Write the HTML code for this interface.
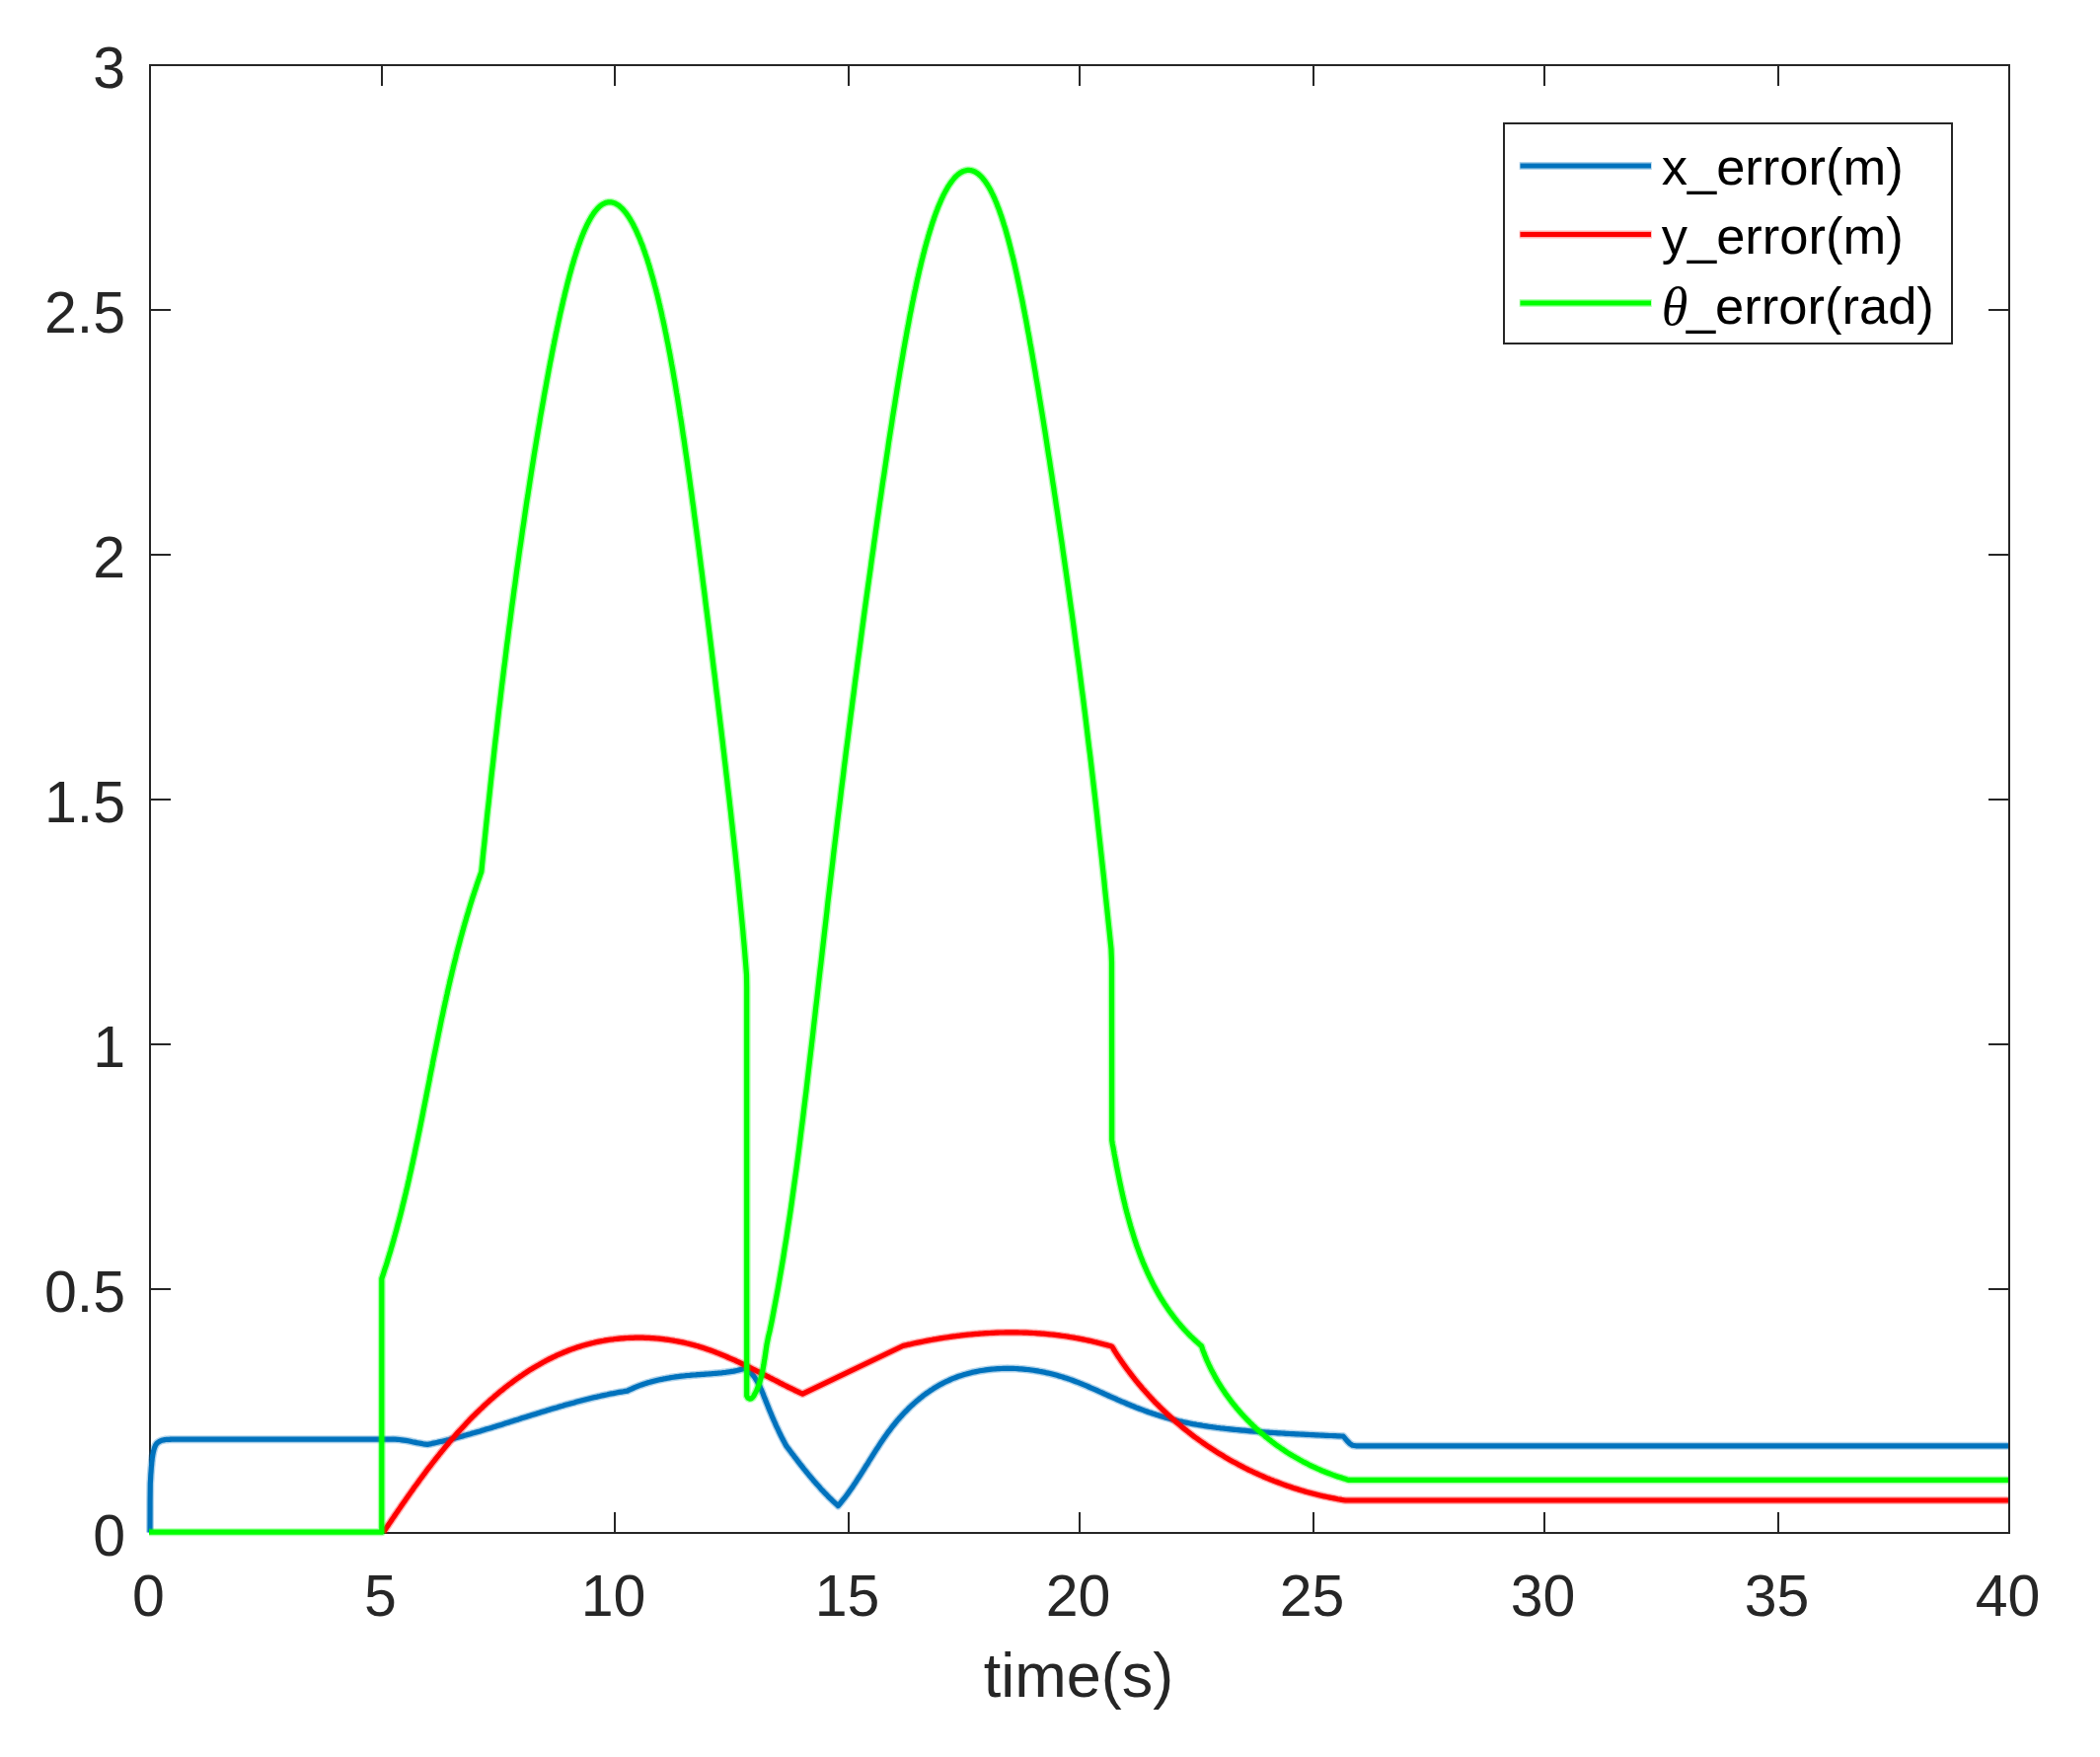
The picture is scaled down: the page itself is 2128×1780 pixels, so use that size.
<!DOCTYPE html>
<html lang="en">
<head>
<meta charset="utf-8">
<title>Tracking error plot</title>
<style>
html,body{margin:0;padding:0;background:#fff;}
body{width:2128px;height:1780px;overflow:hidden;}
svg{display:block;}
</style>
</head>
<body>
<svg width="2128" height="1780" viewBox="0 0 2128 1780">
<rect width="2128" height="1780" fill="#fff"/>
<g stroke="#262626" stroke-width="2" fill="none" shape-rendering="crispEdges">
<rect x="152" y="66" width="1884" height="1487"/>
<path d="M387 1553V1532 M387 66V87"/>
<path d="M623 1553V1532 M623 66V87"/>
<path d="M860 1553V1532 M860 66V87"/>
<path d="M1094 1553V1532 M1094 66V87"/>
<path d="M1331 1553V1532 M1331 66V87"/>
<path d="M1565 1553V1532 M1565 66V87"/>
<path d="M1802 1553V1532 M1802 66V87"/>
<path d="M152 1306H173 M2036 1306H2015"/>
<path d="M152 1058H173 M2036 1058H2015"/>
<path d="M152 810H173 M2036 810H2015"/>
<path d="M152 562H173 M2036 562H2015"/>
<path d="M152 314H173 M2036 314H2015"/>
</g>
<defs>
<path id="cb" d="M152.0,1552.5 L152.1,1520.0 L152.3,1503.0 L152.6,1498.2 L152.8,1493.9 L153.1,1490.3 L153.3,1487.1 L153.6,1484.2 L153.8,1481.5 L154.1,1479.1 L154.3,1477.0 L154.6,1475.3 L154.8,1473.8 L155.1,1472.5 L155.3,1471.3 L155.6,1470.2 L155.8,1469.2 L156.1,1468.3 L156.3,1467.5 L156.6,1466.7 L156.8,1466.1 L157.1,1465.5 L157.3,1464.9 L157.6,1464.4 L157.8,1463.9 L158.1,1463.5 L158.4,1463.1 L158.6,1462.7 L158.9,1462.4 L159.1,1462.2 L159.4,1461.9 L159.6,1461.7 L159.9,1461.5 L160.1,1461.3 L160.4,1461.1 L160.6,1460.9 L160.9,1460.8 L161.1,1460.6 L161.4,1460.5 L161.6,1460.3 L161.9,1460.2 L162.1,1460.1 L162.4,1460.0 L162.6,1459.8 L162.9,1459.7 L163.1,1459.6 L163.4,1459.5 L163.6,1459.4 L163.9,1459.3 L164.2,1459.2 L164.4,1459.2 L164.7,1459.1 L164.9,1459.0 L165.2,1459.0 L165.4,1458.9 L165.7,1458.9 L165.9,1458.8 L166.2,1458.8 L166.4,1458.7 L166.7,1458.7 L166.9,1458.6 L167.2,1458.6 L167.4,1458.6 L167.7,1458.5 L167.9,1458.5 L168.2,1458.5 L168.4,1458.4 L168.7,1458.4 L168.9,1458.4 L169.2,1458.4 L169.4,1458.4 L169.7,1458.4 L169.9,1458.4 L170.2,1458.3 L170.5,1458.3 L170.7,1458.3 L171.0,1458.3 L171.2,1458.3 L171.5,1458.3 L171.7,1458.3 L172.0,1458.3 L172.2,1458.3 L172.5,1458.3 L172.7,1458.2 L173.0,1458.2 L173.2,1458.2 L173.5,1458.2 L173.7,1458.2 L174.0,1458.2 L174.2,1458.2 L174.5,1458.2 L174.7,1458.2 L175.0,1458.2 L175.2,1458.2 L175.5,1458.2 L175.7,1458.2 L176.0,1458.2 L396.0,1458.2 L398.2,1458.1 L400.5,1458.2 L402.7,1458.3 L404.9,1458.5 L407.1,1458.8 L409.2,1459.1 L411.4,1459.4 L413.6,1459.8 L415.8,1460.2 L418.0,1460.7 L420.1,1461.1 L422.3,1461.6 L424.5,1462.0 L426.6,1462.4 L428.8,1462.8 L431.0,1463.1 L433.2,1463.4 L435.2,1463.0 L437.2,1462.6 L439.2,1462.1 L441.2,1461.7 L443.1,1461.3 L445.1,1460.8 L447.1,1460.4 L449.1,1459.9 L451.0,1459.4 L453.0,1458.9 L455.0,1458.5 L457.0,1458.0 L458.9,1457.5 L460.9,1457.0 L462.9,1456.4 L464.8,1455.9 L466.8,1455.4 L468.8,1454.9 L470.7,1454.3 L472.7,1453.8 L474.6,1453.2 L476.6,1452.7 L478.6,1452.1 L480.5,1451.6 L482.5,1451.0 L484.4,1450.4 L486.4,1449.9 L488.3,1449.3 L490.3,1448.7 L492.2,1448.1 L494.2,1447.5 L496.1,1447.0 L498.1,1446.4 L500.0,1445.8 L502.0,1445.2 L503.9,1444.6 L505.9,1444.0 L507.8,1443.4 L509.8,1442.8 L511.7,1442.1 L513.7,1441.5 L515.6,1440.9 L517.5,1440.3 L519.5,1439.7 L521.4,1439.1 L523.4,1438.5 L525.3,1437.9 L527.3,1437.2 L529.2,1436.6 L531.2,1436.0 L533.1,1435.4 L535.1,1434.8 L537.0,1434.2 L539.0,1433.6 L540.9,1433.0 L542.8,1432.4 L544.8,1431.8 L546.7,1431.2 L548.7,1430.6 L550.6,1430.0 L552.6,1429.4 L554.5,1428.8 L556.5,1428.2 L558.5,1427.6 L560.4,1427.0 L562.4,1426.4 L564.3,1425.9 L566.3,1425.3 L568.2,1424.7 L570.2,1424.2 L572.1,1423.6 L574.1,1423.0 L576.1,1422.5 L578.0,1421.9 L580.0,1421.4 L582.0,1420.9 L583.9,1420.3 L585.9,1419.8 L587.9,1419.3 L589.8,1418.8 L591.8,1418.3 L593.8,1417.8 L595.8,1417.3 L597.7,1416.8 L599.7,1416.3 L601.7,1415.8 L603.7,1415.4 L605.7,1414.9 L607.7,1414.5 L609.6,1414.0 L611.6,1413.6 L613.6,1413.2 L615.6,1412.8 L617.6,1412.3 L619.6,1411.9 L621.6,1411.6 L623.6,1411.2 L625.6,1410.8 L627.6,1410.4 L629.7,1410.1 L631.7,1409.8 L633.7,1409.4 L635.7,1409.1 L637.5,1408.2 L639.4,1407.3 L641.3,1406.5 L643.1,1405.7 L645.0,1404.9 L646.9,1404.1 L648.8,1403.4 L650.8,1402.7 L652.7,1402.1 L654.6,1401.4 L656.6,1400.8 L658.5,1400.3 L660.5,1399.7 L662.4,1399.2 L664.4,1398.7 L666.4,1398.2 L668.4,1397.8 L670.4,1397.4 L672.4,1396.9 L674.4,1396.6 L676.4,1396.2 L678.4,1395.9 L680.4,1395.5 L682.5,1395.2 L684.5,1394.9 L686.5,1394.7 L688.6,1394.4 L690.6,1394.2 L692.6,1394.0 L694.7,1393.7 L696.7,1393.5 L698.8,1393.4 L700.8,1393.2 L702.9,1393.0 L704.9,1392.9 L707.0,1392.7 L709.0,1392.6 L711.1,1392.4 L713.1,1392.3 L715.2,1392.1 L717.2,1392.0 L719.3,1391.8 L721.3,1391.7 L723.3,1391.5 L725.4,1391.3 L727.4,1391.2 L729.4,1391.0 L731.5,1390.8 L733.5,1390.5 L735.5,1390.3 L737.5,1390.0 L739.5,1389.7 L741.5,1389.4 L743.5,1389.1 L745.5,1388.7 L747.4,1388.3 L749.4,1387.8 L751.3,1387.3 L753.3,1386.8 L755.2,1386.2 L756.9,1387.3 L758.4,1388.6 L759.9,1389.9 L761.3,1391.3 L762.6,1392.8 L763.9,1394.3 L765.0,1395.9 L766.1,1397.6 L767.2,1399.3 L768.1,1401.0 L769.1,1402.8 L770.0,1404.7 L770.8,1406.5 L771.7,1408.4 L772.5,1410.4 L773.3,1412.3 L774.0,1414.2 L774.8,1416.2 L775.6,1418.1 L776.3,1420.1 L777.1,1422.0 L777.9,1423.9 L778.6,1425.8 L779.4,1427.8 L780.2,1429.7 L781.0,1431.6 L781.8,1433.5 L782.6,1435.4 L783.4,1437.3 L784.2,1439.1 L785.1,1441.0 L785.9,1442.9 L786.7,1444.8 L787.6,1446.6 L788.5,1448.5 L789.3,1450.3 L790.2,1452.2 L791.1,1454.0 L792.0,1455.8 L793.0,1457.7 L793.9,1459.5 L794.9,1461.3 L795.8,1463.1 L796.8,1464.9 L798.0,1466.5 L799.3,1468.2 L800.5,1469.8 L801.8,1471.5 L803.0,1473.1 L804.3,1474.7 L805.5,1476.4 L806.8,1478.0 L808.0,1479.6 L809.3,1481.3 L810.5,1482.9 L811.8,1484.5 L813.1,1486.1 L814.4,1487.8 L815.7,1489.4 L817.0,1491.0 L818.3,1492.6 L819.6,1494.2 L820.9,1495.7 L822.2,1497.3 L823.6,1498.9 L824.9,1500.5 L826.3,1502.0 L827.6,1503.6 L829.0,1505.1 L830.4,1506.6 L831.7,1508.2 L833.1,1509.7 L834.6,1511.2 L836.0,1512.7 L837.4,1514.1 L838.8,1515.6 L840.3,1517.1 L841.8,1518.5 L843.2,1519.9 L844.7,1521.3 L846.2,1522.7 L847.8,1524.1 L849.3,1525.5 L850.6,1524.0 L851.9,1522.5 L853.1,1520.9 L854.3,1519.4 L855.6,1517.8 L856.8,1516.3 L858.0,1514.7 L859.2,1513.1 L860.3,1511.5 L861.5,1509.8 L862.6,1508.2 L863.8,1506.6 L864.9,1504.9 L866.0,1503.2 L867.1,1501.6 L868.2,1499.9 L869.3,1498.2 L870.4,1496.5 L871.5,1494.8 L872.6,1493.1 L873.7,1491.4 L874.8,1489.7 L875.9,1487.9 L876.9,1486.2 L878.0,1484.5 L879.1,1482.8 L880.2,1481.0 L881.2,1479.3 L882.3,1477.6 L883.4,1475.9 L884.5,1474.1 L885.6,1472.4 L886.7,1470.7 L887.7,1469.0 L888.9,1467.3 L890.0,1465.6 L891.1,1463.9 L892.2,1462.2 L893.3,1460.5 L894.5,1458.8 L895.6,1457.1 L896.8,1455.4 L898.0,1453.8 L899.2,1452.1 L900.3,1450.5 L901.6,1448.9 L902.8,1447.2 L904.0,1445.6 L905.3,1444.0 L906.6,1442.5 L907.8,1440.9 L909.1,1439.3 L910.5,1437.8 L911.8,1436.3 L913.2,1434.8 L914.5,1433.3 L915.9,1431.8 L917.3,1430.3 L918.7,1428.9 L920.1,1427.4 L921.6,1426.0 L923.0,1424.6 L924.5,1423.3 L926.0,1421.9 L927.5,1420.6 L929.0,1419.3 L930.6,1418.0 L932.1,1416.7 L933.7,1415.5 L935.2,1414.2 L936.8,1413.0 L938.4,1411.8 L940.1,1410.7 L941.7,1409.6 L943.3,1408.4 L945.0,1407.4 L946.7,1406.3 L948.4,1405.3 L950.1,1404.3 L951.8,1403.3 L953.5,1402.3 L955.3,1401.4 L957.0,1400.5 L958.8,1399.6 L960.6,1398.8 L962.4,1398.0 L964.2,1397.2 L966.0,1396.4 L967.9,1395.7 L969.7,1395.0 L971.6,1394.3 L973.5,1393.7 L975.3,1393.1 L977.2,1392.5 L979.1,1392.0 L981.1,1391.4 L983.0,1390.9 L984.9,1390.4 L986.9,1390.0 L988.8,1389.6 L990.8,1389.2 L992.7,1388.8 L994.7,1388.5 L996.7,1388.2 L998.7,1387.9 L1000.7,1387.6 L1002.7,1387.4 L1004.7,1387.2 L1006.7,1387.0 L1008.7,1386.8 L1010.7,1386.7 L1012.7,1386.6 L1014.7,1386.5 L1016.8,1386.4 L1018.8,1386.4 L1020.8,1386.3 L1022.8,1386.4 L1024.9,1386.4 L1026.9,1386.4 L1028.9,1386.5 L1031.0,1386.6 L1033.0,1386.8 L1035.0,1386.9 L1037.1,1387.1 L1039.1,1387.3 L1041.1,1387.5 L1043.2,1387.7 L1045.2,1388.0 L1047.2,1388.3 L1049.2,1388.6 L1051.2,1388.9 L1053.2,1389.3 L1055.2,1389.6 L1057.2,1390.0 L1059.2,1390.4 L1061.2,1390.9 L1063.2,1391.3 L1065.2,1391.8 L1067.2,1392.3 L1069.1,1392.8 L1071.1,1393.3 L1073.0,1393.9 L1075.0,1394.5 L1076.9,1395.0 L1078.8,1395.7 L1080.8,1396.3 L1082.7,1396.9 L1084.6,1397.6 L1086.5,1398.3 L1088.3,1399.0 L1090.2,1399.7 L1092.1,1400.4 L1094.0,1401.2 L1095.8,1401.9 L1097.7,1402.7 L1099.5,1403.4 L1101.4,1404.2 L1103.2,1405.0 L1105.0,1405.8 L1106.9,1406.6 L1108.7,1407.4 L1110.5,1408.2 L1112.4,1409.0 L1114.2,1409.9 L1116.0,1410.7 L1117.9,1411.5 L1119.7,1412.3 L1121.5,1413.2 L1123.3,1414.0 L1125.2,1414.8 L1127.0,1415.6 L1128.8,1416.4 L1130.6,1417.2 L1132.5,1418.1 L1134.3,1418.9 L1136.1,1419.7 L1138.0,1420.4 L1139.8,1421.2 L1141.7,1422.0 L1143.5,1422.8 L1145.4,1423.5 L1147.2,1424.3 L1149.1,1425.0 L1151.0,1425.8 L1152.8,1426.5 L1154.7,1427.2 L1156.6,1427.9 L1158.5,1428.6 L1160.3,1429.3 L1162.2,1430.0 L1164.1,1430.7 L1166.0,1431.3 L1167.9,1432.0 L1169.8,1432.6 L1171.7,1433.2 L1173.6,1433.8 L1175.5,1434.4 L1177.4,1435.0 L1179.3,1435.6 L1181.3,1436.2 L1183.2,1436.7 L1185.1,1437.2 L1187.1,1437.8 L1189.0,1438.3 L1191.0,1438.7 L1192.9,1439.2 L1194.9,1439.7 L1196.8,1440.1 L1198.8,1440.6 L1200.8,1441.0 L1202.7,1441.4 L1204.7,1441.8 L1206.7,1442.2 L1208.7,1442.6 L1210.6,1442.9 L1212.6,1443.3 L1214.6,1443.6 L1216.6,1443.9 L1218.6,1444.3 L1220.6,1444.6 L1222.6,1444.9 L1224.6,1445.2 L1226.6,1445.5 L1228.6,1445.7 L1230.6,1446.0 L1232.6,1446.3 L1234.6,1446.5 L1236.6,1446.8 L1238.6,1447.0 L1240.6,1447.2 L1242.6,1447.5 L1244.7,1447.7 L1246.7,1447.9 L1248.7,1448.1 L1250.7,1448.3 L1252.7,1448.5 L1254.7,1448.7 L1256.7,1448.9 L1258.8,1449.1 L1260.8,1449.2 L1262.8,1449.4 L1264.8,1449.6 L1266.8,1449.8 L1268.8,1449.9 L1270.8,1450.1 L1272.8,1450.2 L1274.8,1450.4 L1276.9,1450.5 L1278.9,1450.7 L1280.9,1450.8 L1282.9,1451.0 L1284.9,1451.1 L1286.9,1451.3 L1288.9,1451.4 L1290.9,1451.5 L1292.9,1451.6 L1294.9,1451.8 L1297.0,1451.9 L1299.0,1452.0 L1301.0,1452.1 L1303.0,1452.3 L1305.0,1452.4 L1307.0,1452.5 L1309.0,1452.6 L1311.0,1452.7 L1313.0,1452.8 L1315.0,1452.9 L1317.0,1453.0 L1319.1,1453.1 L1321.1,1453.2 L1323.1,1453.3 L1325.1,1453.4 L1327.1,1453.5 L1329.1,1453.6 L1331.1,1453.7 L1333.1,1453.8 L1335.1,1453.9 L1337.1,1454.0 L1339.1,1454.1 L1341.1,1454.2 L1343.1,1454.3 L1345.1,1454.4 L1347.2,1454.5 L1349.2,1454.5 L1351.2,1454.6 L1353.2,1454.7 L1355.2,1454.8 L1357.2,1454.9 L1359.2,1455.0 L1361.2,1455.1 L1365.0,1459.6 L1368.0,1462.6 L1370.5,1464.2 L1374.0,1464.8 L2035.0,1464.8"/>
<path id="cr" d="M388.6,1552.2 L389.7,1550.5 L390.9,1548.9 L392.0,1547.2 L393.1,1545.5 L394.2,1543.8 L395.4,1542.2 L396.5,1540.5 L397.6,1538.8 L398.8,1537.2 L399.9,1535.5 L401.0,1533.8 L402.2,1532.2 L403.3,1530.5 L404.4,1528.9 L405.6,1527.2 L406.7,1525.5 L407.9,1523.9 L409.0,1522.2 L410.2,1520.6 L411.3,1518.9 L412.5,1517.3 L413.6,1515.6 L414.8,1514.0 L415.9,1512.4 L417.1,1510.7 L418.3,1509.1 L419.4,1507.4 L420.6,1505.8 L421.8,1504.2 L423.0,1502.6 L424.2,1500.9 L425.3,1499.3 L426.5,1497.7 L427.7,1496.1 L428.9,1494.5 L430.1,1492.9 L431.3,1491.2 L432.5,1489.6 L433.7,1488.0 L435.0,1486.4 L436.2,1484.9 L437.4,1483.3 L438.6,1481.7 L439.9,1480.1 L441.1,1478.5 L442.4,1476.9 L443.6,1475.4 L444.9,1473.8 L446.1,1472.2 L447.4,1470.7 L448.7,1469.1 L449.9,1467.6 L451.2,1466.0 L452.5,1464.5 L453.8,1463.0 L455.1,1461.4 L456.4,1459.9 L457.7,1458.4 L459.0,1456.9 L460.3,1455.4 L461.7,1453.8 L463.0,1452.3 L464.3,1450.8 L465.7,1449.4 L467.0,1447.9 L468.4,1446.4 L469.8,1444.9 L471.2,1443.4 L472.5,1442.0 L473.9,1440.5 L475.3,1439.1 L476.7,1437.6 L478.1,1436.2 L479.6,1434.7 L481.0,1433.3 L482.4,1431.9 L483.9,1430.5 L485.3,1429.1 L486.8,1427.7 L488.3,1426.3 L489.7,1424.9 L491.2,1423.5 L492.7,1422.1 L494.2,1420.8 L495.7,1419.4 L497.2,1418.0 L498.8,1416.7 L500.3,1415.4 L501.8,1414.0 L503.4,1412.7 L504.9,1411.4 L506.5,1410.1 L508.1,1408.8 L509.7,1407.6 L511.2,1406.3 L512.8,1405.0 L514.4,1403.8 L516.0,1402.5 L517.7,1401.3 L519.3,1400.1 L520.9,1398.9 L522.6,1397.7 L524.2,1396.5 L525.9,1395.4 L527.5,1394.2 L529.2,1393.1 L530.9,1391.9 L532.6,1390.8 L534.2,1389.7 L535.9,1388.6 L537.6,1387.6 L539.4,1386.5 L541.1,1385.4 L542.8,1384.4 L544.5,1383.4 L546.3,1382.4 L548.0,1381.4 L549.8,1380.4 L551.6,1379.5 L553.3,1378.5 L555.1,1377.6 L556.9,1376.7 L558.7,1375.8 L560.5,1374.9 L562.3,1374.1 L564.1,1373.2 L565.9,1372.4 L567.7,1371.6 L569.6,1370.8 L571.4,1370.0 L573.3,1369.3 L575.1,1368.5 L577.0,1367.8 L578.8,1367.1 L580.7,1366.4 L582.6,1365.8 L584.5,1365.1 L586.4,1364.5 L588.3,1363.9 L590.2,1363.3 L592.1,1362.8 L594.0,1362.2 L596.0,1361.7 L597.9,1361.2 L599.8,1360.7 L601.8,1360.3 L603.7,1359.8 L605.7,1359.4 L607.6,1359.0 L609.6,1358.6 L611.6,1358.3 L613.5,1357.9 L615.5,1357.6 L617.5,1357.3 L619.5,1357.0 L621.5,1356.8 L623.5,1356.5 L625.5,1356.3 L627.5,1356.1 L629.5,1355.9 L631.5,1355.8 L633.5,1355.6 L635.5,1355.5 L637.5,1355.4 L639.5,1355.3 L641.5,1355.3 L643.5,1355.2 L645.5,1355.2 L647.5,1355.2 L649.5,1355.2 L651.6,1355.2 L653.6,1355.3 L655.6,1355.4 L657.6,1355.4 L659.6,1355.6 L661.6,1355.7 L663.6,1355.8 L665.6,1356.0 L667.7,1356.2 L669.7,1356.4 L671.7,1356.6 L673.7,1356.9 L675.7,1357.1 L677.7,1357.4 L679.7,1357.7 L681.6,1358.0 L683.6,1358.4 L685.6,1358.7 L687.6,1359.1 L689.6,1359.5 L691.6,1359.9 L693.5,1360.3 L695.5,1360.8 L697.5,1361.2 L699.4,1361.7 L701.4,1362.2 L703.3,1362.7 L705.2,1363.3 L707.2,1363.8 L709.1,1364.4 L711.0,1365.0 L712.9,1365.6 L714.9,1366.3 L716.8,1366.9 L718.7,1367.6 L720.6,1368.2 L722.4,1368.9 L724.3,1369.6 L726.2,1370.4 L728.1,1371.1 L729.9,1371.8 L731.8,1372.6 L733.7,1373.4 L735.5,1374.2 L737.4,1375.0 L739.2,1375.8 L741.1,1376.6 L742.9,1377.4 L744.8,1378.2 L746.6,1379.1 L748.4,1379.9 L750.3,1380.8 L752.1,1381.7 L753.9,1382.5 L755.7,1383.4 L757.5,1384.3 L759.3,1385.2 L761.2,1386.1 L763.0,1387.0 L764.8,1387.9 L766.6,1388.8 L768.4,1389.7 L770.2,1390.6 L772.0,1391.6 L773.8,1392.5 L775.6,1393.4 L777.4,1394.3 L779.2,1395.2 L781.0,1396.2 L782.8,1397.1 L784.6,1398.0 L786.4,1398.9 L788.2,1399.8 L789.9,1400.8 L791.7,1401.7 L793.5,1402.6 L795.3,1403.5 L797.1,1404.4 L798.9,1405.3 L800.7,1406.2 L802.5,1407.0 L804.3,1407.9 L806.1,1408.8 L807.9,1409.7 L809.7,1410.5 L811.5,1411.4 L813.3,1412.2 L915.0,1363.5 L917.0,1363.0 L918.9,1362.6 L920.9,1362.1 L922.9,1361.7 L924.8,1361.2 L926.8,1360.8 L928.8,1360.4 L930.7,1360.0 L932.7,1359.6 L934.7,1359.2 L936.7,1358.8 L938.7,1358.4 L940.6,1358.0 L942.6,1357.6 L944.6,1357.3 L946.6,1356.9 L948.6,1356.6 L950.6,1356.2 L952.6,1355.9 L954.6,1355.6 L956.6,1355.3 L958.6,1355.0 L960.6,1354.7 L962.6,1354.4 L964.6,1354.1 L966.6,1353.8 L968.6,1353.6 L970.6,1353.3 L972.6,1353.1 L974.6,1352.8 L976.7,1352.6 L978.7,1352.4 L980.7,1352.2 L982.7,1352.0 L984.7,1351.8 L986.7,1351.6 L988.7,1351.4 L990.8,1351.3 L992.8,1351.1 L994.8,1351.0 L996.8,1350.8 L998.8,1350.7 L1000.9,1350.6 L1002.9,1350.5 L1004.9,1350.4 L1006.9,1350.3 L1008.9,1350.2 L1011.0,1350.1 L1013.0,1350.0 L1015.0,1350.0 L1017.0,1350.0 L1019.0,1349.9 L1021.1,1349.9 L1023.1,1349.9 L1025.1,1349.9 L1027.1,1349.9 L1029.2,1349.9 L1031.2,1349.9 L1033.2,1350.0 L1035.2,1350.0 L1037.2,1350.1 L1039.3,1350.1 L1041.3,1350.2 L1043.3,1350.3 L1045.3,1350.4 L1047.3,1350.5 L1049.3,1350.6 L1051.4,1350.8 L1053.4,1350.9 L1055.4,1351.1 L1057.4,1351.2 L1059.4,1351.4 L1061.4,1351.6 L1063.4,1351.8 L1065.4,1352.0 L1067.4,1352.2 L1069.4,1352.4 L1071.4,1352.7 L1073.4,1352.9 L1075.4,1353.2 L1077.4,1353.5 L1079.4,1353.7 L1081.4,1354.0 L1083.4,1354.4 L1085.4,1354.7 L1087.4,1355.0 L1089.4,1355.4 L1091.4,1355.7 L1093.4,1356.1 L1095.4,1356.5 L1097.3,1356.9 L1099.3,1357.3 L1101.3,1357.7 L1103.3,1358.1 L1105.3,1358.5 L1107.2,1359.0 L1109.2,1359.5 L1111.2,1359.9 L1113.1,1360.4 L1115.1,1360.9 L1117.0,1361.4 L1119.0,1362.0 L1121.0,1362.5 L1122.9,1363.1 L1124.9,1363.6 L1126.8,1364.2 L1127.9,1365.9 L1128.9,1367.6 L1130.0,1369.4 L1131.1,1371.1 L1132.2,1372.8 L1133.3,1374.5 L1134.4,1376.1 L1135.6,1377.8 L1136.7,1379.5 L1137.9,1381.1 L1139.0,1382.8 L1140.2,1384.4 L1141.4,1386.1 L1142.6,1387.7 L1143.8,1389.3 L1145.0,1390.9 L1146.2,1392.5 L1147.5,1394.1 L1148.7,1395.7 L1150.0,1397.3 L1151.2,1398.8 L1152.5,1400.4 L1153.8,1402.0 L1155.1,1403.5 L1156.4,1405.0 L1157.7,1406.6 L1159.0,1408.1 L1160.4,1409.6 L1161.7,1411.1 L1163.1,1412.6 L1164.4,1414.1 L1165.8,1415.6 L1167.2,1417.0 L1168.5,1418.5 L1169.9,1419.9 L1171.3,1421.4 L1172.8,1422.8 L1174.2,1424.2 L1175.6,1425.7 L1177.1,1427.1 L1178.5,1428.5 L1180.0,1429.9 L1181.4,1431.2 L1182.9,1432.6 L1184.4,1434.0 L1185.9,1435.3 L1187.4,1436.7 L1188.9,1438.0 L1190.4,1439.4 L1191.9,1440.7 L1193.4,1442.0 L1195.0,1443.3 L1196.5,1444.6 L1198.1,1445.9 L1199.6,1447.1 L1201.2,1448.4 L1202.8,1449.6 L1204.3,1450.9 L1205.9,1452.1 L1207.5,1453.4 L1209.1,1454.6 L1210.7,1455.8 L1212.4,1457.0 L1214.0,1458.2 L1215.6,1459.3 L1217.3,1460.5 L1218.9,1461.7 L1220.6,1462.8 L1222.2,1464.0 L1223.9,1465.1 L1225.6,1466.2 L1227.2,1467.3 L1228.9,1468.4 L1230.6,1469.5 L1232.3,1470.6 L1234.0,1471.7 L1235.7,1472.7 L1237.5,1473.8 L1239.2,1474.8 L1240.9,1475.9 L1242.7,1476.9 L1244.4,1477.9 L1246.1,1478.9 L1247.9,1479.9 L1249.7,1480.9 L1251.4,1481.8 L1253.2,1482.8 L1255.0,1483.8 L1256.8,1484.7 L1258.5,1485.6 L1260.3,1486.6 L1262.1,1487.5 L1263.9,1488.4 L1265.7,1489.3 L1267.6,1490.1 L1269.4,1491.0 L1271.2,1491.9 L1273.0,1492.7 L1274.9,1493.5 L1276.7,1494.4 L1278.6,1495.2 L1280.4,1496.0 L1282.3,1496.8 L1284.1,1497.6 L1286.0,1498.3 L1287.8,1499.1 L1289.7,1499.8 L1291.6,1500.6 L1293.5,1501.3 L1295.4,1502.0 L1297.2,1502.7 L1299.1,1503.4 L1301.0,1504.1 L1302.9,1504.8 L1304.8,1505.4 L1306.8,1506.1 L1308.7,1506.7 L1310.6,1507.4 L1312.5,1508.0 L1314.4,1508.6 L1316.4,1509.2 L1318.3,1509.8 L1320.2,1510.3 L1322.2,1510.9 L1324.1,1511.5 L1326.0,1512.0 L1328.0,1512.5 L1329.9,1513.0 L1331.9,1513.5 L1333.8,1514.0 L1335.8,1514.5 L1337.8,1515.0 L1339.7,1515.4 L1341.7,1515.9 L1343.7,1516.3 L1345.6,1516.7 L1347.6,1517.1 L1349.6,1517.5 L1351.6,1517.9 L1353.6,1518.3 L1355.5,1518.7 L1357.5,1519.0 L1359.5,1519.4 L1361.5,1519.7 L1363.5,1520.0 L2035.0,1520.0"/>
<path id="cg" d="M151.0,1552.2 L386.8,1552.2 L386.8,1295.5 L387.4,1293.6 L388.1,1291.7 L388.7,1289.8 L389.3,1287.8 L389.9,1285.9 L390.5,1284.0 L391.2,1282.1 L391.8,1280.2 L392.4,1278.2 L393.0,1276.3 L393.5,1274.4 L394.1,1272.5 L394.7,1270.5 L395.3,1268.6 L395.9,1266.7 L396.4,1264.7 L397.0,1262.8 L397.6,1260.9 L398.1,1258.9 L398.7,1257.0 L399.2,1255.1 L399.7,1253.1 L400.3,1251.2 L400.8,1249.2 L401.4,1247.3 L401.9,1245.4 L402.4,1243.4 L402.9,1241.5 L403.4,1239.5 L404.0,1237.6 L404.5,1235.6 L405.0,1233.7 L405.5,1231.8 L406.0,1229.8 L406.5,1227.9 L407.0,1225.9 L407.5,1224.0 L407.9,1222.0 L408.4,1220.1 L408.9,1218.1 L409.4,1216.1 L409.9,1214.2 L410.3,1212.2 L410.8,1210.3 L411.3,1208.3 L411.7,1206.4 L412.2,1204.4 L412.7,1202.4 L413.1,1200.5 L413.6,1198.5 L414.0,1196.6 L414.5,1194.6 L414.9,1192.6 L415.3,1190.7 L415.8,1188.7 L416.2,1186.8 L416.7,1184.8 L417.1,1182.8 L417.5,1180.9 L418.0,1178.9 L418.4,1176.9 L418.8,1175.0 L419.2,1173.0 L419.7,1171.0 L420.1,1169.1 L420.5,1167.1 L420.9,1165.1 L421.3,1163.1 L421.7,1161.2 L422.1,1159.2 L422.6,1157.2 L423.0,1155.3 L423.4,1153.3 L423.8,1151.3 L424.2,1149.3 L424.6,1147.4 L425.0,1145.4 L425.4,1143.4 L425.8,1141.5 L426.2,1139.5 L426.6,1137.5 L427.0,1135.5 L427.4,1133.6 L427.8,1131.6 L428.2,1129.6 L428.6,1127.6 L428.9,1125.7 L429.3,1123.7 L429.7,1121.7 L430.1,1119.7 L430.5,1117.8 L430.9,1115.8 L431.3,1113.8 L431.7,1111.8 L432.1,1109.8 L432.4,1107.9 L432.8,1105.9 L433.2,1103.9 L433.6,1101.9 L434.0,1100.0 L434.4,1098.0 L434.8,1096.0 L435.2,1094.0 L435.5,1092.1 L435.9,1090.1 L436.3,1088.1 L436.7,1086.1 L437.1,1084.1 L437.5,1082.2 L437.9,1080.2 L438.3,1078.2 L438.6,1076.2 L439.0,1074.3 L439.4,1072.3 L439.8,1070.3 L440.2,1068.3 L440.6,1066.4 L441.0,1064.4 L441.4,1062.4 L441.8,1060.4 L442.2,1058.5 L442.6,1056.5 L443.0,1054.5 L443.4,1052.5 L443.8,1050.6 L444.2,1048.6 L444.6,1046.6 L445.0,1044.7 L445.4,1042.7 L445.8,1040.7 L446.2,1038.7 L446.6,1036.8 L447.0,1034.8 L447.4,1032.8 L447.8,1030.9 L448.3,1028.9 L448.7,1026.9 L449.1,1024.9 L449.5,1023.0 L449.9,1021.0 L450.4,1019.0 L450.8,1017.1 L451.2,1015.1 L451.7,1013.1 L452.1,1011.2 L452.5,1009.2 L453.0,1007.3 L453.4,1005.3 L453.8,1003.3 L454.3,1001.4 L454.7,999.4 L455.2,997.4 L455.6,995.5 L456.1,993.5 L456.5,991.6 L457.0,989.6 L457.5,987.7 L457.9,985.7 L458.4,983.7 L458.9,981.8 L459.3,979.8 L459.8,977.9 L460.3,975.9 L460.8,974.0 L461.3,972.0 L461.8,970.1 L462.2,968.1 L462.7,966.2 L463.2,964.2 L463.7,962.3 L464.2,960.3 L464.8,958.4 L465.3,956.4 L465.8,954.5 L466.3,952.5 L466.8,950.6 L467.3,948.7 L467.9,946.7 L468.4,944.8 L469.0,942.8 L469.5,940.9 L470.0,939.0 L470.6,937.0 L471.1,935.1 L471.7,933.2 L472.3,931.2 L472.8,929.3 L473.4,927.4 L474.0,925.4 L474.6,923.5 L475.1,921.6 L475.7,919.7 L476.3,917.7 L476.9,915.8 L477.5,913.9 L478.1,912.0 L478.7,910.0 L479.3,908.1 L480.0,906.2 L480.6,904.3 L481.2,902.4 L481.9,900.5 L482.5,898.6 L483.1,896.6 L483.8,894.7 L484.4,892.8 L485.1,890.9 L485.8,889.0 L486.4,887.1 L487.1,885.2 L487.8,883.3 L488.5,876.3 L489.2,869.3 L489.9,862.3 L490.7,855.4 L491.4,848.5 L492.1,841.6 L492.8,834.8 L493.5,828.0 L494.2,821.3 L495.0,814.6 L495.7,807.9 L496.4,801.3 L497.1,794.7 L497.8,788.1 L498.5,781.6 L499.3,775.1 L500.0,768.7 L500.7,762.3 L501.4,755.9 L502.1,749.6 L502.9,743.3 L503.6,737.0 L504.3,730.8 L505.0,724.6 L505.7,718.4 L506.5,712.3 L507.2,706.2 L507.9,700.2 L508.6,694.2 L509.4,688.2 L510.1,682.2 L510.8,676.4 L511.6,670.5 L512.3,664.7 L513.0,658.9 L513.7,653.1 L514.5,647.4 L515.2,641.7 L515.9,636.1 L516.7,630.5 L517.4,624.9 L518.1,619.4 L518.8,613.9 L519.6,608.4 L520.3,603.0 L521.0,597.6 L521.8,592.3 L522.5,587.0 L523.2,581.7 L523.9,576.4 L524.7,571.2 L525.4,566.1 L526.1,560.9 L526.8,555.9 L527.6,550.8 L528.3,545.8 L529.0,540.8 L529.7,535.9 L530.5,530.9 L531.2,526.1 L531.9,521.2 L532.6,516.4 L533.3,511.7 L534.0,506.9 L534.8,502.3 L535.5,497.6 L536.2,493.0 L536.9,488.4 L537.6,483.9 L538.3,479.4 L539.0,474.9 L539.7,470.5 L540.4,466.1 L541.1,461.7 L541.8,457.4 L542.5,453.1 L543.2,448.9 L543.9,444.6 L544.6,440.5 L545.3,436.3 L546.0,432.2 L546.7,428.2 L547.3,424.1 L548.0,420.1 L548.7,416.2 L549.4,412.3 L550.1,408.4 L550.8,404.5 L551.4,400.7 L552.1,397.0 L552.8,393.2 L553.5,389.5 L554.1,385.9 L554.8,382.2 L555.5,378.6 L556.1,375.1 L556.8,371.6 L557.4,368.1 L558.1,364.7 L558.8,361.2 L559.4,357.9 L560.1,354.5 L560.7,351.3 L561.4,348.0 L562.0,344.8 L562.7,341.6 L563.3,338.4 L564.0,335.3 L564.6,332.3 L565.3,329.2 L565.9,326.2 L566.6,323.2 L567.2,320.3 L567.8,317.4 L568.5,314.6 L569.1,311.7 L569.8,309.0 L570.4,306.2 L571.0,303.5 L571.7,300.8 L572.3,298.2 L572.9,295.6 L573.6,293.0 L574.2,290.5 L574.8,288.0 L575.4,285.6 L576.1,283.2 L576.7,280.8 L577.3,278.4 L578.0,276.1 L578.6,273.9 L579.2,271.6 L579.8,269.4 L580.5,267.3 L581.1,265.2 L581.7,263.1 L582.3,261.0 L583.0,259.0 L583.6,257.0 L584.2,255.1 L584.8,253.2 L585.5,251.3 L586.1,249.5 L586.7,247.7 L587.4,246.0 L588.0,244.2 L588.6,242.6 L589.2,240.9 L589.9,239.3 L590.5,237.7 L591.1,236.2 L591.7,234.7 L592.4,233.2 L593.0,231.8 L593.6,230.4 L594.3,229.1 L594.9,227.7 L595.5,226.5 L596.2,225.2 L596.8,224.0 L597.4,222.9 L598.1,221.7 L598.7,220.6 L599.3,219.6 L600.0,218.5 L600.6,217.6 L601.2,216.6 L601.9,215.7 L602.5,214.8 L603.2,214.0 L603.8,213.2 L604.5,212.4 L605.1,211.7 L605.7,211.0 L606.4,210.3 L607.0,209.7 L607.7,209.1 L608.3,208.6 L609.0,208.1 L609.6,207.6 L610.3,207.2 L610.9,206.8 L611.6,206.4 L612.3,206.1 L612.9,205.8 L613.6,205.5 L614.2,205.3 L614.9,205.2 L615.6,205.0 L616.2,204.9 L616.9,204.8 L617.5,204.8 L618.2,204.8 L618.9,204.8 L619.5,204.9 L620.2,205.0 L620.9,205.2 L621.5,205.4 L622.2,205.6 L622.9,205.9 L623.6,206.2 L624.2,206.5 L624.9,206.9 L625.6,207.3 L626.2,207.7 L626.9,208.2 L627.6,208.7 L628.3,209.3 L628.9,209.9 L629.6,210.5 L630.3,211.2 L631.0,211.9 L631.7,212.6 L632.3,213.4 L633.0,214.2 L633.7,215.0 L634.4,215.9 L635.1,216.8 L635.7,217.8 L636.4,218.8 L637.1,219.8 L637.8,220.9 L638.5,222.0 L639.1,223.1 L639.8,224.3 L640.5,225.5 L641.2,226.8 L641.9,228.1 L642.5,229.4 L643.2,230.7 L643.9,232.1 L644.6,233.6 L645.3,235.1 L645.9,236.6 L646.6,238.1 L647.3,239.7 L648.0,241.3 L648.7,243.0 L649.3,244.7 L650.0,246.4 L650.7,248.1 L651.4,249.9 L652.0,251.8 L652.7,253.7 L653.4,255.6 L654.0,257.5 L654.7,259.5 L655.4,261.5 L656.1,263.6 L656.7,265.7 L657.4,267.8 L658.1,270.0 L658.7,272.2 L659.4,274.4 L660.0,276.7 L660.7,279.0 L661.4,281.4 L662.0,283.7 L662.7,286.2 L663.3,288.6 L664.0,291.1 L664.7,293.7 L665.3,296.2 L666.0,298.8 L666.6,301.5 L667.3,304.2 L667.9,306.9 L668.6,309.6 L669.2,312.4 L669.9,315.3 L670.5,318.1 L671.1,321.0 L671.8,324.0 L672.4,326.9 L673.1,330.0 L673.7,333.0 L674.3,336.1 L675.0,339.2 L675.6,342.4 L676.2,345.6 L676.9,348.8 L677.5,352.1 L678.1,355.4 L678.8,358.7 L679.4,362.1 L680.0,365.5 L680.6,368.9 L681.3,372.4 L681.9,376.0 L682.5,379.5 L683.1,383.1 L683.8,386.8 L684.4,390.4 L685.0,394.1 L685.6,397.9 L686.3,401.7 L686.9,405.5 L687.5,409.3 L688.1,413.2 L688.7,417.1 L689.3,421.1 L690.0,425.1 L690.6,429.2 L691.2,433.2 L691.8,437.3 L692.4,441.5 L693.1,445.7 L693.7,449.9 L694.3,454.1 L694.9,458.4 L695.6,462.8 L696.2,467.1 L696.8,471.5 L697.4,476.0 L698.1,480.5 L698.7,485.0 L699.3,489.5 L699.9,494.1 L700.6,498.7 L701.2,503.4 L701.8,508.1 L702.5,512.8 L703.1,517.6 L703.7,522.4 L704.4,527.3 L705.0,532.1 L705.7,537.1 L706.3,542.0 L707.0,547.0 L707.6,552.0 L708.3,557.1 L708.9,562.2 L709.6,567.3 L710.2,572.5 L710.9,577.7 L711.6,583.0 L712.2,588.3 L712.9,593.6 L713.6,598.9 L714.3,604.3 L714.9,609.8 L715.6,615.2 L716.3,620.7 L717.0,626.3 L717.7,631.8 L718.4,637.5 L719.1,643.1 L719.8,648.8 L720.5,654.5 L721.2,660.3 L721.9,666.1 L722.6,671.9 L723.3,677.8 L724.1,683.7 L724.8,689.6 L725.5,695.6 L726.2,701.6 L727.0,707.7 L727.7,713.8 L728.4,719.9 L729.2,726.1 L729.9,732.3 L730.7,738.5 L731.4,744.8 L732.2,751.1 L732.9,757.5 L733.7,763.8 L734.4,770.3 L735.2,776.7 L735.9,783.2 L736.7,789.7 L737.4,796.3 L738.2,802.9 L739.0,809.6 L739.7,816.2 L740.5,822.9 L741.2,829.7 L742.0,836.5 L742.7,843.3 L743.5,850.2 L744.2,857.1 L745.0,864.0 L745.7,871.0 L746.4,878.0 L747.2,885.0 L747.9,892.1 L748.6,899.2 L749.3,906.4 L750.0,913.6 L750.7,920.8 L751.4,928.1 L752.1,935.4 L752.8,942.7 L753.4,950.1 L754.1,957.5 L754.7,964.9 L755.3,972.4 L755.9,979.9 L756.5,987.5 L756.7,1000.0 L756.7,1414.0 L757.9,1416.2 L759.5,1417.1 L761.2,1416.9 L762.6,1415.8 L763.8,1414.2 L764.8,1412.3 L765.8,1410.4 L766.7,1408.5 L767.5,1406.6 L768.3,1404.6 L769.0,1402.7 L769.7,1400.7 L770.3,1398.7 L770.9,1396.7 L771.4,1394.8 L771.9,1392.8 L772.3,1390.7 L772.8,1388.7 L773.2,1386.7 L773.5,1384.7 L773.9,1382.6 L774.2,1380.6 L774.5,1378.6 L774.9,1376.5 L775.2,1374.5 L775.5,1372.5 L775.8,1370.4 L776.1,1368.4 L776.4,1366.3 L776.7,1364.3 L777.0,1362.2 L777.4,1360.2 L777.8,1358.2 L778.2,1356.2 L778.6,1354.1 L779.1,1352.1 L779.6,1350.1 L780.1,1348.1 L782.3,1337.4 L784.3,1326.8 L786.3,1316.2 L788.3,1305.6 L790.1,1295.1 L791.9,1284.7 L793.7,1274.2 L795.3,1263.9 L797.0,1253.6 L798.5,1243.3 L800.1,1233.1 L801.6,1223.0 L803.0,1212.9 L804.4,1202.8 L805.8,1192.8 L807.2,1182.8 L808.5,1172.9 L809.8,1163.0 L811.0,1153.2 L812.2,1143.5 L813.5,1133.7 L814.6,1124.1 L815.8,1114.4 L817.0,1104.9 L818.1,1095.3 L819.2,1085.9 L820.3,1076.4 L821.4,1067.1 L822.5,1057.7 L823.6,1048.5 L824.6,1039.2 L825.7,1030.0 L826.7,1020.9 L827.8,1011.8 L828.8,1002.8 L829.8,993.8 L830.8,984.9 L831.9,976.0 L832.9,967.1 L833.9,958.4 L834.9,949.6 L835.9,940.9 L836.9,932.3 L837.9,923.7 L838.8,915.1 L839.8,906.6 L840.8,898.2 L841.8,889.8 L842.8,881.4 L843.8,873.1 L844.7,864.9 L845.7,856.7 L846.7,848.5 L847.7,840.4 L848.6,832.4 L849.6,824.4 L850.6,816.4 L851.6,808.5 L852.5,800.6 L853.5,792.8 L854.5,785.1 L855.4,777.3 L856.4,769.7 L857.3,762.1 L858.3,754.5 L859.3,747.0 L860.2,739.5 L861.2,732.1 L862.1,724.7 L863.1,717.4 L864.0,710.1 L865.0,702.9 L865.9,695.7 L866.8,688.6 L867.8,681.5 L868.7,674.5 L869.6,667.5 L870.6,660.5 L871.5,653.7 L872.4,646.8 L873.3,640.0 L874.2,633.3 L875.1,626.6 L876.0,620.0 L876.9,613.4 L877.8,606.8 L878.7,600.4 L879.6,593.9 L880.5,587.5 L881.4,581.2 L882.3,574.9 L883.1,568.6 L884.0,562.4 L884.9,556.3 L885.7,550.2 L886.6,544.1 L887.4,538.1 L888.3,532.2 L889.1,526.2 L890.0,520.4 L890.8,514.6 L891.6,508.8 L892.5,503.1 L893.3,497.5 L894.1,491.8 L894.9,486.3 L895.8,480.8 L896.6,475.3 L897.4,469.9 L898.2,464.5 L899.0,459.2 L899.8,453.9 L900.5,448.7 L901.3,443.5 L902.1,438.4 L902.9,433.3 L903.7,428.3 L904.4,423.3 L905.2,418.4 L906.0,413.5 L906.8,408.7 L907.5,403.9 L908.3,399.2 L909.0,394.5 L909.8,389.8 L910.5,385.3 L911.3,380.7 L912.0,376.2 L912.8,371.8 L913.5,367.4 L914.3,363.1 L915.0,358.8 L915.7,354.5 L916.5,350.3 L917.2,346.2 L918.0,342.1 L918.7,338.0 L919.4,334.0 L920.2,330.1 L920.9,326.2 L921.6,322.3 L922.3,318.5 L923.1,314.8 L923.8,311.1 L924.5,307.4 L925.3,303.8 L926.0,300.2 L926.7,296.7 L927.5,293.3 L928.2,289.9 L928.9,286.5 L929.6,283.2 L930.4,279.9 L931.1,276.7 L931.8,273.5 L932.6,270.4 L933.3,267.3 L934.0,264.3 L934.8,261.3 L935.5,258.4 L936.3,255.5 L937.0,252.7 L937.7,249.9 L938.5,247.2 L939.2,244.5 L940.0,241.9 L940.7,239.3 L941.5,236.8 L942.2,234.3 L943.0,231.9 L943.7,229.5 L944.5,227.1 L945.2,224.8 L946.0,222.6 L946.7,220.4 L947.5,218.3 L948.2,216.2 L949.0,214.1 L949.8,212.1 L950.5,210.2 L951.3,208.3 L952.1,206.4 L952.9,204.6 L953.6,202.9 L954.4,201.2 L955.2,199.5 L955.9,197.9 L956.7,196.4 L957.5,194.9 L958.3,193.4 L959.1,192.0 L959.9,190.6 L960.6,189.3 L961.4,188.1 L962.2,186.9 L963.0,185.7 L963.8,184.6 L964.6,183.5 L965.4,182.5 L966.2,181.5 L966.9,180.6 L967.7,179.7 L968.5,178.9 L969.3,178.1 L970.1,177.4 L970.9,176.7 L971.7,176.1 L972.5,175.5 L973.3,175.0 L974.1,174.5 L974.9,174.1 L975.7,173.7 L976.5,173.4 L977.3,173.1 L978.1,172.9 L978.9,172.7 L979.7,172.5 L980.4,172.4 L981.2,172.4 L982.0,172.4 L982.8,172.5 L983.6,172.6 L984.4,172.7 L985.2,172.9 L986.0,173.2 L986.8,173.5 L987.5,173.8 L988.3,174.2 L989.1,174.7 L989.9,175.2 L990.7,175.7 L991.4,176.3 L992.2,177.0 L993.0,177.7 L993.8,178.4 L994.5,179.2 L995.3,180.0 L996.1,180.9 L996.8,181.9 L997.6,182.9 L998.4,183.9 L999.1,185.0 L999.9,186.1 L1000.6,187.3 L1001.4,188.5 L1002.2,189.8 L1002.9,191.1 L1003.7,192.5 L1004.4,193.9 L1005.1,195.4 L1005.9,196.9 L1006.6,198.5 L1007.4,200.1 L1008.1,201.8 L1008.8,203.5 L1009.6,205.3 L1010.3,207.1 L1011.0,209.0 L1011.8,210.9 L1012.5,212.8 L1013.2,214.9 L1013.9,216.9 L1014.7,219.0 L1015.4,221.2 L1016.1,223.4 L1016.8,225.7 L1017.5,228.0 L1018.3,230.3 L1019.0,232.7 L1019.7,235.2 L1020.4,237.7 L1021.1,240.2 L1021.8,242.8 L1022.5,245.5 L1023.2,248.2 L1023.9,250.9 L1024.6,253.7 L1025.3,256.6 L1026.1,259.5 L1026.8,262.4 L1027.5,265.4 L1028.2,268.4 L1028.9,271.5 L1029.6,274.7 L1030.3,277.8 L1031.0,281.1 L1031.7,284.4 L1032.4,287.7 L1033.1,291.1 L1033.8,294.5 L1034.5,298.0 L1035.3,301.5 L1036.0,305.1 L1036.7,308.7 L1037.4,312.4 L1038.1,316.1 L1038.8,319.9 L1039.6,323.7 L1040.3,327.6 L1041.0,331.5 L1041.7,335.5 L1042.5,339.5 L1043.2,343.5 L1043.9,347.7 L1044.7,351.8 L1045.4,356.0 L1046.2,360.3 L1046.9,364.6 L1047.7,369.0 L1048.4,373.4 L1049.2,377.8 L1049.9,382.3 L1050.7,386.9 L1051.5,391.5 L1052.3,396.2 L1053.0,400.9 L1053.8,405.6 L1054.6,410.4 L1055.4,415.3 L1056.2,420.2 L1057.0,425.1 L1057.8,430.1 L1058.6,435.1 L1059.4,440.2 L1060.2,445.4 L1061.0,450.6 L1061.8,455.8 L1062.6,461.1 L1063.5,466.4 L1064.3,471.8 L1065.1,477.2 L1066.0,482.7 L1066.8,488.3 L1067.7,493.8 L1068.5,499.5 L1069.4,505.2 L1070.2,510.9 L1071.1,516.7 L1072.0,522.5 L1072.8,528.4 L1073.7,534.3 L1074.6,540.3 L1075.5,546.3 L1076.4,552.3 L1077.2,558.5 L1078.1,564.6 L1079.0,570.9 L1079.9,577.1 L1080.8,583.4 L1081.7,589.8 L1082.6,596.2 L1083.5,602.7 L1084.4,609.2 L1085.3,615.7 L1086.3,622.3 L1087.2,629.0 L1088.1,635.7 L1089.0,642.5 L1089.9,649.3 L1090.8,656.1 L1091.7,663.0 L1092.7,670.0 L1093.6,677.0 L1094.5,684.0 L1095.4,691.1 L1096.3,698.3 L1097.3,705.5 L1098.2,712.7 L1099.1,720.0 L1100.0,727.3 L1100.9,734.7 L1101.8,742.2 L1102.7,749.7 L1103.6,757.2 L1104.6,764.8 L1105.5,772.4 L1106.4,780.1 L1107.3,787.8 L1108.2,795.6 L1109.1,803.4 L1110.0,811.3 L1110.9,819.2 L1111.8,827.2 L1112.6,835.2 L1113.5,843.3 L1114.4,851.4 L1115.3,859.6 L1116.2,867.8 L1117.1,876.1 L1118.0,884.4 L1118.9,892.8 L1119.7,901.2 L1120.6,909.7 L1121.5,918.2 L1122.4,926.8 L1123.3,935.4 L1124.2,944.0 L1125.1,952.7 L1126.0,961.5 L1126.5,975.0 L1126.7,1155.0 L1127.0,1156.9 L1127.3,1158.9 L1127.7,1160.9 L1128.1,1162.8 L1128.4,1164.8 L1128.8,1166.7 L1129.1,1168.7 L1129.5,1170.7 L1129.9,1172.7 L1130.2,1174.6 L1130.6,1176.6 L1131.0,1178.6 L1131.3,1180.6 L1131.7,1182.5 L1132.1,1184.5 L1132.5,1186.5 L1132.9,1188.5 L1133.3,1190.5 L1133.7,1192.5 L1134.1,1194.5 L1134.5,1196.5 L1134.9,1198.4 L1135.3,1200.4 L1135.8,1202.4 L1136.2,1204.4 L1136.6,1206.4 L1137.1,1208.4 L1137.5,1210.4 L1138.0,1212.4 L1138.4,1214.4 L1138.9,1216.3 L1139.4,1218.3 L1139.9,1220.3 L1140.3,1222.3 L1140.8,1224.3 L1141.3,1226.2 L1141.8,1228.2 L1142.4,1230.2 L1142.9,1232.2 L1143.4,1234.1 L1144.0,1236.1 L1144.5,1238.1 L1145.1,1240.0 L1145.6,1242.0 L1146.2,1243.9 L1146.8,1245.9 L1147.4,1247.8 L1148.0,1249.8 L1148.6,1251.7 L1149.2,1253.7 L1149.8,1255.6 L1150.4,1257.5 L1151.1,1259.4 L1151.7,1261.4 L1152.4,1263.3 L1153.1,1265.2 L1153.8,1267.1 L1154.5,1269.0 L1155.2,1270.9 L1155.9,1272.8 L1156.6,1274.6 L1157.4,1276.5 L1158.1,1278.4 L1158.9,1280.3 L1159.7,1282.1 L1160.5,1284.0 L1161.3,1285.8 L1162.1,1287.7 L1162.9,1289.5 L1163.8,1291.3 L1164.6,1293.1 L1165.5,1294.9 L1166.4,1296.7 L1167.3,1298.5 L1168.2,1300.3 L1169.1,1302.1 L1170.0,1303.9 L1171.0,1305.6 L1171.9,1307.4 L1172.9,1309.1 L1173.9,1310.9 L1174.9,1312.6 L1175.9,1314.3 L1177.0,1316.0 L1178.0,1317.7 L1179.1,1319.4 L1180.2,1321.1 L1181.3,1322.7 L1182.4,1324.4 L1183.5,1326.0 L1184.6,1327.7 L1185.8,1329.3 L1187.0,1330.9 L1188.2,1332.5 L1189.4,1334.1 L1190.6,1335.7 L1191.9,1337.3 L1193.1,1338.9 L1194.4,1340.4 L1195.7,1341.9 L1197.0,1343.5 L1198.4,1345.0 L1199.7,1346.5 L1201.1,1348.0 L1202.5,1349.5 L1203.9,1350.9 L1205.3,1352.4 L1206.7,1353.8 L1208.2,1355.2 L1209.7,1356.6 L1211.2,1358.0 L1212.7,1359.4 L1214.3,1360.8 L1215.8,1362.2 L1217.4,1363.5 L1218.1,1365.4 L1218.7,1367.3 L1219.4,1369.2 L1220.2,1371.1 L1220.9,1373.0 L1221.7,1374.9 L1222.4,1376.8 L1223.2,1378.6 L1224.1,1380.5 L1224.9,1382.3 L1225.8,1384.1 L1226.6,1385.9 L1227.5,1387.7 L1228.5,1389.5 L1229.4,1391.3 L1230.4,1393.1 L1231.3,1394.9 L1232.3,1396.6 L1233.3,1398.4 L1234.3,1400.1 L1235.4,1401.8 L1236.5,1403.6 L1237.5,1405.3 L1238.6,1406.9 L1239.7,1408.6 L1240.9,1410.3 L1242.0,1412.0 L1243.2,1413.6 L1244.4,1415.2 L1245.6,1416.9 L1246.8,1418.5 L1248.0,1420.1 L1249.2,1421.7 L1250.5,1423.3 L1251.8,1424.8 L1253.0,1426.4 L1254.4,1427.9 L1255.7,1429.5 L1257.0,1431.0 L1258.3,1432.5 L1259.7,1434.0 L1261.1,1435.5 L1262.5,1436.9 L1263.9,1438.4 L1265.3,1439.8 L1266.7,1441.3 L1268.2,1442.7 L1269.6,1444.1 L1271.1,1445.5 L1272.6,1446.9 L1274.1,1448.2 L1275.6,1449.6 L1277.1,1450.9 L1278.6,1452.3 L1280.2,1453.6 L1281.7,1454.9 L1283.3,1456.2 L1284.9,1457.4 L1286.5,1458.7 L1288.1,1459.9 L1289.7,1461.2 L1291.3,1462.4 L1292.9,1463.6 L1294.6,1464.8 L1296.2,1465.9 L1297.9,1467.1 L1299.6,1468.2 L1301.3,1469.4 L1302.9,1470.5 L1304.6,1471.6 L1306.4,1472.7 L1308.1,1473.7 L1309.8,1474.8 L1311.6,1475.8 L1313.3,1476.8 L1315.1,1477.8 L1316.8,1478.8 L1318.6,1479.8 L1320.4,1480.8 L1322.2,1481.7 L1324.0,1482.6 L1325.8,1483.6 L1327.6,1484.5 L1329.4,1485.3 L1331.2,1486.2 L1333.1,1487.0 L1334.9,1487.9 L1336.7,1488.7 L1338.6,1489.5 L1340.4,1490.3 L1342.3,1491.0 L1344.2,1491.8 L1346.1,1492.5 L1347.9,1493.2 L1349.8,1493.9 L1351.7,1494.6 L1353.6,1495.3 L1355.5,1495.9 L1357.4,1496.5 L1359.3,1497.1 L1361.2,1497.7 L1363.2,1498.3 L1365.1,1498.9 L1367.0,1499.4 L2035.0,1499.4"/>
</defs>
<g fill="none" stroke-linejoin="round" stroke-linecap="butt">
<use href="#cb" stroke="#0072bd" stroke-width="8" stroke-opacity="0.3"/>
<use href="#cb" stroke="#0072bd" stroke-width="5.2"/>
<use href="#cr" stroke="#ff0000" stroke-width="8" stroke-opacity="0.3"/>
<use href="#cr" stroke="#ff0000" stroke-width="5.2"/>
<use href="#cg" stroke="#00ff00" stroke-width="8" stroke-opacity="0.3"/>
<use href="#cg" stroke="#00ff00" stroke-width="5.2"/>
</g>
<g font-family="'Liberation Sans', Arial, sans-serif" font-size="59" fill="#262626">
<text x="150.5" y="1637" text-anchor="middle">0</text>
<text x="385.5" y="1637" text-anchor="middle">5</text>
<text x="621.5" y="1637" text-anchor="middle">10</text>
<text x="858.5" y="1637" text-anchor="middle">15</text>
<text x="1092.5" y="1637" text-anchor="middle">20</text>
<text x="1329.5" y="1637" text-anchor="middle">25</text>
<text x="1563.5" y="1637" text-anchor="middle">30</text>
<text x="1800.5" y="1637" text-anchor="middle">35</text>
<text x="2034.5" y="1637" text-anchor="middle">40</text>
<text x="127" y="1576.4" text-anchor="end">0</text>
<text x="127" y="1328.6" text-anchor="end">0.5</text>
<text x="127" y="1080.7" text-anchor="end">1</text>
<text x="127" y="832.9" text-anchor="end">1.5</text>
<text x="127" y="585.1" text-anchor="end">2</text>
<text x="127" y="337.2" text-anchor="end">2.5</text>
<text x="127" y="89.4" text-anchor="end">3</text>
</g>
<text x="1093" y="1719" text-anchor="middle" font-family="'Liberation Sans', Arial, sans-serif" font-size="63" fill="#262626">time(s)</text>
<rect x="1524" y="125" width="454" height="223" fill="#fff" stroke="#262626" stroke-width="2" shape-rendering="crispEdges"/>
<path d="M1539.7 168H1673.8" stroke="#0072bd" stroke-width="8" stroke-opacity="0.3"/>
<path d="M1540.5 168H1673" stroke="#0072bd" stroke-width="5.2"/>
<path d="M1539.7 237.5H1673.8" stroke="#ff0000" stroke-width="8" stroke-opacity="0.3"/>
<path d="M1540.5 237.5H1673" stroke="#ff0000" stroke-width="5.2"/>
<path d="M1539.7 307H1673.8" stroke="#00ff00" stroke-width="8" stroke-opacity="0.3"/>
<path d="M1540.5 307H1673" stroke="#00ff00" stroke-width="5.2"/>
<g font-family="'Liberation Sans', Arial, sans-serif" font-size="52.5" fill="#000">
<text x="1683.7" y="187">x_error(m)</text>
<text x="1683.7" y="256.5">y_error(m)</text>
<text x="1683.7" y="328"><tspan font-family="'Liberation Serif', 'DejaVu Serif', serif" font-style="italic" font-size="54" dy="1">θ</tspan><tspan dx="-1.3" dy="-1">_error(rad)</tspan></text>
</g>
</svg>
</body>
</html>
